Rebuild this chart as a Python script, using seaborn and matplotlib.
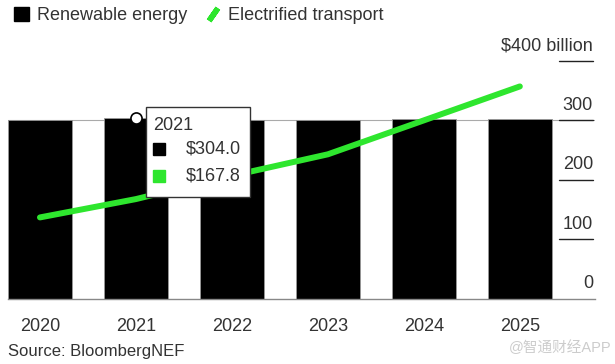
import matplotlib
matplotlib.use("Agg")
import matplotlib.pyplot as plt
import seaborn as sns
import pandas as pd
from matplotlib.patches import Patch, Rectangle
from matplotlib.lines import Line2D

# data (US$ billion)
years = ["2020", "2021", "2022", "2023", "2024", "2025"]
renewable = [301, 304.0, 301, 301, 302, 303]
transport = [137, 167.8, 207, 243, 300, 357]
yticks = [0, 100, 200, 300, 400]
ytick_labels = ["0", "100", "200", "300", "$400 billion"]
hover_year = "2021"

df = pd.DataFrame({"year": years, "renewable": renewable, "transport": transport})

sns.set_style("white")
plt.rcParams["font.family"] = ["Liberation Sans", "Noto Sans CJK SC", "DejaVu Sans"]

GREEN = "#2ee62e"
TXT = "#333333"
FS = 13

fig = plt.figure(figsize=(6.15, 3.64), dpi=100)
ax = fig.add_axes([0.013, 0.1786, 0.954, 0.687])

# light grid line at the top of the bars
ax.axhline(300, color="#aaaaaa", lw=0.8, zorder=0)

sns.barplot(data=df, x="year", y="renewable", color="black", width=0.667,
            edgecolor="#999999", linewidth=0.6, saturation=1, ax=ax, zorder=2)
sns.lineplot(data=df, x="year", y="transport", color=GREEN, lw=4.3,
             solid_capstyle="round", ax=ax, zorder=3)

ax.set_xlim(-0.333, 5.78)
ax.set_ylim(0, 420)
ax.set_xlabel("")
ax.set_ylabel("")
ax.set_yticks([])
for s in ["top", "right", "left"]:
    ax.spines[s].set_visible(False)
ax.spines["bottom"].set_color("#888888")
ax.spines["bottom"].set_linewidth(1.0)
ax.tick_params(axis="x", colors="#888888", length=5, width=1, labelsize=FS,
               labelcolor=TXT, pad=9)

# right-hand value axis: short rules with labels above them
for v, lab in zip(yticks, ytick_labels):
    if v > 0:
        ax.axhline(v, xmin=0.939, xmax=0.997, color="#222222", lw=1.0, zorder=4)
    ax.text(0.997, v + 11, lab, transform=ax.get_yaxis_transform(),
            ha="right", va="bottom", fontsize=FS, color=TXT)

# hover tooltip for 2021
i = years.index(hover_year)
ax.plot([i], [renewable[i]], marker="o", ms=8, mfc="white", mec="black",
        mew=1.2, zorder=6, clip_on=False)
ax.add_patch(Rectangle((1.10, 171), 1.09, 152, facecolor="white",
                       edgecolor="#333333", lw=1.0, zorder=7, clip_on=False))
ax.text(1.18, 292, hover_year, fontsize=FS, color=TXT, va="center", zorder=8)
ax.plot([1.245], [252], marker="s", ms=9, color="black", zorder=8, clip_on=False)
ax.plot([1.245], [207], marker="s", ms=9, color=GREEN, zorder=8, clip_on=False)
ax.text(2.09, 252, f"${renewable[i]:.1f}", fontsize=FS, color=TXT,
        ha="right", va="center", zorder=8)
ax.text(2.09, 207, f"${transport[i]:.1f}", fontsize=FS, color=TXT,
        ha="right", va="center", zorder=8)

# legend
handles = [
    Patch(facecolor="black", edgecolor="black"),
    Line2D([], [], ls="none", marker=(2, 2, -35), ms=11, mec=GREEN, mew=4),
]
fig.legend(handles, ["Renewable energy", "Electrified transport"], loc="upper left",
           bbox_to_anchor=(-0.003, 1.025), ncol=2, frameon=False, fontsize=FS,
           handlelength=0.8, handleheight=0.8, handletextpad=0.45, columnspacing=1.0,
           labelcolor=TXT)

fig.text(0.013, 0.033, "Source: BloombergNEF", fontsize=12, color=TXT, va="center")
fig.text(0.995, 0.045, "@智通财经APP", fontsize=10.5, color="#cccccc", ha="right", va="center")

fig.savefig("out.png", dpi=100)
